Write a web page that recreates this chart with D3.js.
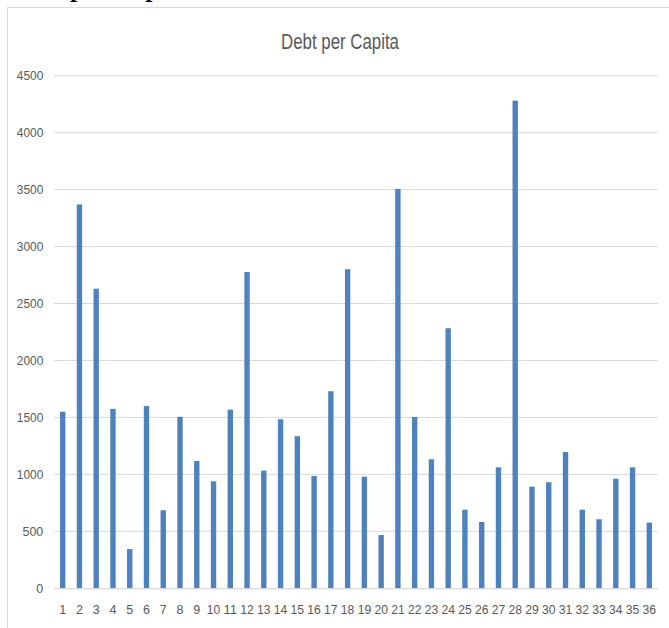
<!DOCTYPE html>
<html>
<head>
<meta charset="utf-8">
<script src="https://cdn.jsdelivr.net/npm/d3@7"></script>
<style>
  html, body { margin: 0; padding: 0; background: #fff; }
  svg { display: block; }
</style>
</head>
<body>
<svg id="chart" width="669" height="628"></svg>
<script>
const categories = ["1","2","3","4","5","6","7","8","9","10","11","12","13","14","15","16","17","18",
                    "19","20","21","22","23","24","25","26","27","28","29","30","31","32","33","34","35","36"];
const debtPerCapita = [1550, 3370, 2630, 1575, 345, 1600, 685, 1505, 1118, 939, 1568, 2777, 1033, 1484, 1335, 986, 1730, 2801,
                       980, 468, 3506, 1504, 1133, 2283, 690, 582, 1062, 4281, 892, 931, 1197, 690, 606, 962, 1062, 576];
const yTicks = [0, 500, 1000, 1500, 2000, 2500, 3000, 3500, 4000, 4500];
const chartTitle = "Debt per Capita";

(function () {
const svg = d3.select("#chart");

// cut-off heading above the chart frame (only its descenders show, as in the reference)
svg.append("text")
  .attr("x", 10).attr("y", -3.5)
  .attr("font-family", "Liberation Serif, serif")
  .attr("font-weight", "bold")
  .attr("font-size", 26)
  .attr("fill", "#000")
  .text(chartTitle);

// chart frame (extends beyond right / bottom edge)
svg.append("rect")
  .attr("x", 7.5).attr("y", 7.5)
  .attr("width", 720).attr("height", 700)
  .attr("fill", "#fff")
  .attr("stroke", "#d9d9d9").attr("stroke-width", 1);

const pLeft = 54.3, pRight = 657.7, pTop = 75.7, pBottom = 588.3;

const x = d3.scaleBand().domain(categories).range([pLeft, pRight])
  .paddingInner(0.68).paddingOuter(0.34);
const y = d3.scaleLinear().domain([0, 4500]).range([pBottom, pTop]);

// gridlines
svg.append("g").selectAll("line")
  .data(yTicks.filter(d => d > 0))
  .join("line")
  .attr("x1", pLeft).attr("x2", pRight)
  .attr("y1", d => y(d)).attr("y2", d => y(d))
  .attr("stroke", "#d9d9d9").attr("stroke-width", 1);

// y axis labels
const yAxis = d3.axisLeft(y).tickValues(yTicks).tickFormat(d3.format("d")).tickSize(0).tickPadding(11);
const gy = svg.append("g").attr("transform", `translate(${pLeft},0)`).call(yAxis);
gy.select(".domain").remove();
gy.selectAll("text")
  .attr("font-family", "Liberation Sans, Arial, sans-serif")
  .attr("font-size", 12.5)
  .attr("fill", "#595959")
  .attr("textLength", 26.5)
  .attr("lengthAdjust", "spacingAndGlyphs")
  .filter(d => d < 1000).attr("textLength", null);

// bars
svg.append("g").selectAll("rect")
  .data(debtPerCapita)
  .join("rect")
  .attr("x", (d, i) => x(categories[i]))
  .attr("width", x.bandwidth())
  .attr("y", d => y(d))
  .attr("height", d => y(0) - y(d))
  .attr("fill", "#4f81bd");

// x axis
const xAxis = d3.axisBottom(x).tickSize(0).tickPadding(16.5);
const gx = svg.append("g").attr("transform", `translate(0,${pBottom})`).call(xAxis);
gx.select(".domain").attr("stroke", "#d0d0d0").attr("d", `M${pLeft},0.5H${pRight}`);
gx.selectAll("text")
  .attr("font-family", "Liberation Sans, Arial, sans-serif")
  .attr("font-size", 12.5)
  .attr("fill", "#595959")
  .attr("textLength", d => d.length > 1 ? 13.5 : null)
  .attr("lengthAdjust", "spacingAndGlyphs");

// title
svg.append("text")
  .attr("x", 340).attr("y", 49.3)
  .attr("text-anchor", "middle")
  .attr("font-family", "Liberation Sans, Arial, sans-serif")
  .attr("font-size", 22)
  .attr("fill", "#595959")
  .attr("textLength", 118)
  .attr("lengthAdjust", "spacingAndGlyphs")
  .text(chartTitle);
})();
</script>
</body>
</html>
